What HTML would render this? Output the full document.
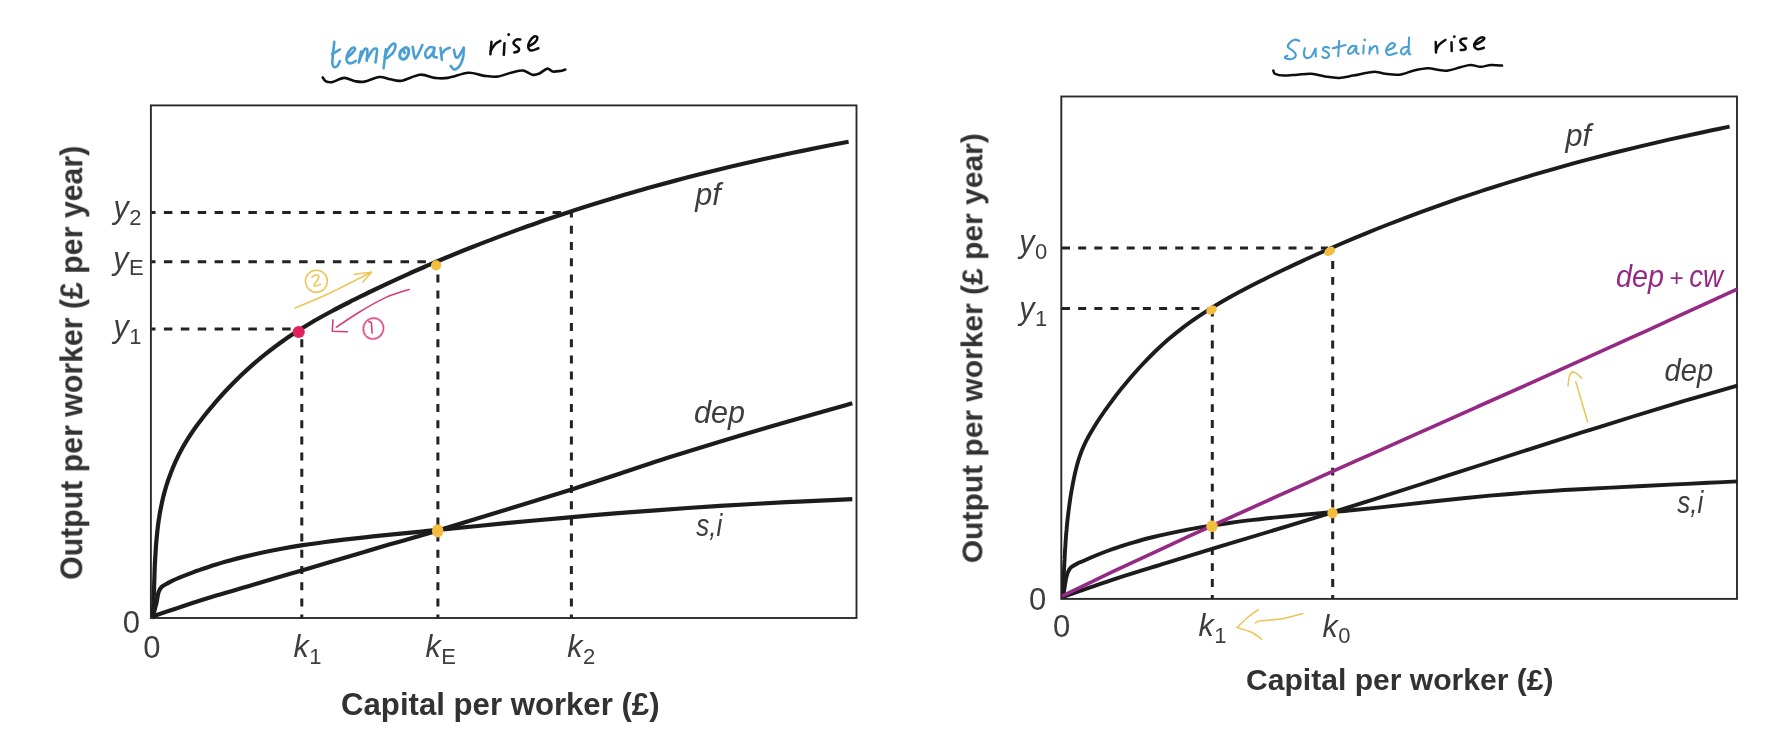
<!DOCTYPE html>
<html><head><meta charset="utf-8">
<style>
html,body{margin:0;padding:0;background:#fff;}
body{width:1787px;height:755px;overflow:hidden;font-family:"Liberation Sans",sans-serif;}
svg{display:block;}
.ax{font-family:"Liberation Sans",sans-serif;font-weight:bold;fill:#333;}
.lb{font-family:"Liberation Sans",sans-serif;font-style:italic;fill:#3d3d3d;}
.nm{font-family:"Liberation Sans",sans-serif;fill:#3d3d3d;}
.cv{fill:none;stroke:#1c1c1c;stroke-width:4.2;stroke-linecap:butt;stroke-linejoin:round;}
.cr{stroke-width:3.9;}
.ds{fill:none;stroke:#222;stroke-width:3;}
.lh{stroke-dasharray:8.5 8.4;stroke-dashoffset:4.4;}
.lv{stroke-dasharray:8 8.2;stroke-dashoffset:4.4;}
.rh{stroke-dasharray:8 8.18;}
.rv{stroke-dasharray:7.8 8.1;stroke-dashoffset:4;}
.fr{fill:none;stroke:#2a2a2a;stroke-width:1.9;}
.hw{fill:none;stroke-linecap:round;stroke-linejoin:round;}
</style></head>
<body>
<svg width="1787" height="755" viewBox="0 0 1787 755">
<rect width="1787" height="755" fill="#fff"/>
<defs><filter id="soft" x="0" y="0" width="1787" height="755" filterUnits="userSpaceOnUse"><feGaussianBlur stdDeviation="0.45"/></filter></defs>
<g filter="url(#soft)">
<defs><clipPath id="cl"><rect x="150" y="100" width="702.3" height="520"/></clipPath><clipPath id="clp"><rect x="150" y="100" width="698.6" height="520"/></clipPath><clipPath id="crr"><rect x="1060" y="90" width="677.5" height="510"/></clipPath><clipPath id="crp"><rect x="1060" y="90" width="669.6" height="510"/></clipPath></defs>
<g id="left">
<rect class="fr" x="150.9" y="105.4" width="705.6" height="512.6"/>
<path class="ds lh" d="M151.4 212.5H572.5"/><path class="ds lv" d="M571.4 618.2V212.5"/>
<path class="ds lh" d="M151.4 261.8H434"/><path class="ds lv" d="M437.9 618.2V266"/>
<path class="ds lh" d="M151.4 328.9H296"/><path class="ds lv" d="M301.8 618.2V334"/>
<path class="cv" d="M152.3 616.5C157.5 614.7 172.8 609.4 183.6 605.9C194.4 602.4 206.0 598.7 217.2 595.3C228.4 591.9 240.2 588.6 250.7 585.5C261.2 582.4 271.5 579.3 280.0 576.8C288.5 574.3 290.9 573.6 301.8 570.4C312.7 567.2 330.9 561.8 345.5 557.5C360.1 553.2 373.7 549.1 389.1 544.6C404.5 540.1 407.5 539.8 437.9 530.6C468.3 521.4 532.1 501.9 571.6 489.4C611.1 476.9 642.1 466.0 675.0 455.6C707.9 445.2 739.5 435.7 769.0 427.0C798.5 418.3 838.4 407.2 852.3 403.3"/>
<path class="cv" d="M152.8 617.0C153.0 616.1 153.7 613.3 154.2 611.5C154.7 609.7 155.2 607.6 155.6 606.0C156.0 604.4 156.4 603.5 156.7 601.9C157.0 600.3 157.3 598.2 157.6 596.5C157.9 594.8 158.1 593.4 158.7 591.8C159.3 590.2 160.1 588.5 161.4 587.1C162.8 585.8 164.9 584.8 166.8 583.7C168.7 582.6 170.0 581.8 172.6 580.6C175.2 579.4 178.8 577.9 182.5 576.4C186.3 574.9 190.5 573.3 194.9 571.6C199.4 570.0 204.2 568.3 209.2 566.7C214.2 565.0 219.6 563.4 225.2 561.8C230.7 560.2 236.6 558.6 242.6 557.1C248.7 555.6 255.0 554.1 261.5 552.7C267.9 551.3 274.7 550.0 281.6 548.8C288.5 547.5 295.6 546.3 302.8 545.2C310.1 544.1 317.6 543.0 325.2 542.0C332.8 541.0 340.6 540.0 348.6 539.1C356.5 538.2 364.6 537.3 372.8 536.4C381.1 535.5 389.5 534.7 398.0 533.8C406.5 533.0 415.1 532.2 423.9 531.3C432.7 530.4 441.5 529.6 450.5 528.7C459.6 527.8 468.7 526.9 477.9 526.0C487.1 525.1 496.5 524.2 505.9 523.2C515.4 522.3 524.9 521.4 534.6 520.5C544.3 519.6 554.1 518.7 564.0 517.8C573.8 516.9 583.8 516.0 593.9 515.1C604.0 514.3 614.2 513.5 624.6 512.6C634.9 511.8 645.3 511.0 655.8 510.3C666.3 509.5 676.9 508.8 687.6 508.0C698.3 507.3 709.1 506.6 720.0 505.9C730.9 505.3 741.8 504.6 752.9 504.0C764.0 503.4 775.1 502.8 786.4 502.2C797.7 501.6 809.4 501.1 820.4 500.6C831.4 500.1 847.0 499.4 852.3 499.2"/>
<path class="cv" d="M152.6 617.5C152.6 617.5 152.8 617.4 152.8 617.2C152.9 617.0 152.9 616.7 152.9 616.4C152.9 616.0 152.9 615.6 153.0 615.0C153.0 614.5 153.0 613.8 153.1 613.1C153.1 612.4 153.1 611.6 153.2 610.6C153.2 609.7 153.3 608.7 153.3 607.6C153.4 606.5 153.4 605.3 153.5 604.1C153.5 602.8 153.6 601.4 153.6 599.9C153.7 598.5 153.7 596.9 153.8 595.2C153.9 593.6 153.9 591.8 154.0 590.0C154.0 588.1 154.1 586.2 154.2 584.2C154.2 582.2 154.3 580.0 154.4 577.8C154.5 575.6 154.5 573.3 154.6 570.9C154.7 568.5 154.8 566.0 154.9 563.4C155.1 560.8 155.2 558.1 155.4 555.3C155.5 552.6 155.7 549.7 155.9 546.8C156.1 543.8 156.4 540.8 156.7 537.6C157.0 534.5 157.3 531.3 157.7 528.0C158.1 524.7 158.5 521.3 159.1 517.9C159.6 514.4 160.2 510.9 161.0 507.3C161.7 503.7 162.5 500.0 163.4 496.3C164.4 492.6 165.4 488.7 166.6 484.9C167.8 481.0 169.2 477.1 170.7 473.2C172.2 469.2 173.8 465.3 175.6 461.3C177.5 457.3 179.5 453.3 181.7 449.3C183.9 445.2 186.4 441.2 188.9 437.2C191.5 433.2 194.3 429.1 197.2 425.1C200.2 421.1 203.3 417.0 206.5 413.0C209.8 408.9 213.2 404.9 216.7 400.8C220.2 396.8 223.9 392.8 227.7 388.7C231.5 384.7 235.5 380.7 239.6 376.7C243.8 372.8 248.1 368.8 252.5 364.9C256.9 361.0 261.5 357.2 266.3 353.4C271.0 349.6 276.0 345.9 281.1 342.2C286.1 338.6 291.4 335.0 296.8 331.5C302.2 328.0 307.8 324.7 313.5 321.3C319.3 318.0 325.2 314.7 331.2 311.5C337.2 308.3 343.3 305.1 349.6 302.0C355.8 298.8 362.2 295.7 368.6 292.5C375.1 289.4 381.7 286.3 388.4 283.1C395.0 280.0 401.8 276.9 408.7 273.8C415.6 270.7 422.6 267.7 429.7 264.6C436.8 261.5 444.0 258.5 451.3 255.5C458.7 252.4 466.1 249.4 473.6 246.5C481.2 243.5 488.8 240.5 496.6 237.6C504.3 234.7 512.2 231.8 520.2 228.9C528.1 226.0 536.2 223.2 544.4 220.3C552.6 217.5 560.9 214.7 569.3 212.0C577.7 209.2 586.2 206.5 594.9 203.8C603.5 201.1 612.2 198.5 621.1 195.8C629.9 193.2 638.9 190.6 647.9 188.1C657.0 185.6 666.2 183.1 675.4 180.6C684.7 178.1 694.1 175.7 703.6 173.3C713.1 170.9 722.6 168.6 732.3 166.3C742.0 164.0 751.8 161.7 761.7 159.5C771.6 157.3 781.6 155.2 791.7 153.0C801.8 150.9 812.9 148.7 822.4 146.8C831.8 144.9 844.2 142.6 848.6 141.8"/>
<circle cx="298.7" cy="332" r="6.1" fill="#e0245e"/>
<circle cx="436.1" cy="265.3" r="5.1" fill="#f3bd3e"/>
<ellipse cx="437.7" cy="530.8" rx="5.8" ry="6.6" fill="#f3bd3e"/>
<text class="lb" x="695.3" y="204.6" font-size="30.5">pf</text>
<text class="lb" x="694" y="423" font-size="30.5">dep</text>
<text class="lb" x="696.3" y="536.2" font-size="30.5" textLength="26" lengthAdjust="spacingAndGlyphs">s,i</text>
<text class="lb" x="113.6" y="218.1" font-size="30.5">y<tspan class="nm" font-style="normal" font-size="22" dx="0.5" dy="6.5">2</tspan></text>
<text class="lb" x="113.2" y="268.6" font-size="30.5">y<tspan class="nm" font-style="normal" font-size="22" dx="0.5" dy="6.5">E</tspan></text>
<text class="lb" x="113.4" y="337.3" font-size="30.5">y<tspan class="nm" font-style="normal" font-size="22" dx="0.5" dy="6.5">1</tspan></text>
<text class="nm" x="122.8" y="632.6" font-size="31">0</text>
<text class="nm" x="143.2" y="657.6" font-size="31">0</text>
<text class="lb" x="293.6" y="657" font-size="30.5">k<tspan class="nm" font-style="normal" font-size="22" dx="0.5" dy="6.5">1</tspan></text>
<text class="lb" x="425.6" y="657" font-size="30.5">k<tspan class="nm" font-style="normal" font-size="22" dx="0.5" dy="6.5">E</tspan></text>
<text class="lb" x="567.2" y="657" font-size="30.5">k<tspan class="nm" font-style="normal" font-size="22" dx="0.5" dy="6.5">2</tspan></text>
<text class="ax" x="500.3" y="715.2" font-size="30.5" text-anchor="middle" textLength="318.5" lengthAdjust="spacingAndGlyphs">Capital per worker (£)</text>
<text class="ax" transform="translate(82.3 362.8) rotate(-90)" font-size="30.5" text-anchor="middle" textLength="434" lengthAdjust="spacingAndGlyphs">Output per worker (£ per year)</text>
</g>
<g id="right">
<rect class="fr" x="1061.3" y="96.5" width="675.7" height="502.4"/>
<path class="ds rh" d="M1062 247.9H1328"/><path class="ds rv" d="M1332.7 598.8V253"/>
<path class="ds rh" d="M1062 308.4H1208"/><path class="ds rv" d="M1212.3 598.8V313"/>
<path class="cv cr" d="M1062.3 597.0C1070.9 594.1 1096.5 585.0 1113.8 579.3C1131.0 573.7 1148.3 568.5 1165.7 563.1C1183.0 557.8 1200.4 552.5 1217.7 547.2C1235.1 542.0 1252.5 536.8 1269.8 531.5C1287.2 526.2 1304.5 520.9 1321.9 515.6C1339.2 510.2 1356.5 504.8 1373.8 499.3C1391.1 493.9 1408.4 488.3 1425.7 482.7C1442.9 477.2 1460.2 471.6 1477.4 466.0C1494.7 460.4 1512.0 454.8 1529.2 449.3C1546.5 443.7 1563.8 438.2 1581.1 432.7C1598.4 427.3 1615.7 421.8 1633.0 416.5C1650.4 411.2 1667.7 405.9 1685.1 400.7C1702.5 395.6 1728.7 388.1 1737.4 385.6"/>
<path class="cv cr" d="M1062.8 597.5C1063.0 596.2 1063.8 592.5 1064.2 590.0C1064.6 587.5 1065.0 584.8 1065.4 582.5C1065.8 580.2 1066.1 578.3 1066.6 576.5C1067.0 574.7 1067.3 573.4 1068.1 571.8C1068.9 570.2 1069.7 568.5 1071.4 567.1C1073.1 565.7 1076.0 564.2 1078.1 563.1C1080.2 562.0 1081.4 561.9 1083.9 560.8C1086.5 559.7 1089.9 558.0 1093.5 556.5C1097.0 555.0 1101.1 553.4 1105.3 551.8C1109.6 550.2 1114.2 548.5 1119.1 546.9C1123.9 545.2 1129.1 543.6 1134.5 542.1C1139.8 540.5 1145.5 539.0 1151.3 537.5C1157.1 536.0 1163.2 534.6 1169.5 533.3C1175.7 531.9 1182.2 530.6 1188.9 529.4C1195.5 528.2 1202.3 527.0 1209.3 525.9C1216.3 524.8 1223.5 523.7 1230.9 522.7C1238.2 521.7 1245.7 520.8 1253.3 519.9C1261.0 519.0 1268.8 518.2 1276.7 517.4C1284.6 516.5 1292.7 515.7 1300.9 515.0C1309.1 514.2 1317.4 513.4 1325.9 512.6C1334.3 511.8 1342.9 511.1 1351.6 510.2C1360.3 509.4 1369.0 508.5 1377.9 507.6C1386.8 506.6 1395.8 505.6 1404.9 504.6C1414.0 503.6 1423.2 502.6 1432.5 501.5C1441.8 500.5 1451.2 499.5 1460.7 498.5C1470.3 497.5 1479.9 496.5 1489.6 495.6C1499.3 494.7 1509.2 493.9 1519.1 493.2C1529.0 492.4 1539.1 491.7 1549.2 491.1C1559.3 490.4 1569.6 489.8 1579.9 489.3C1590.2 488.7 1600.7 488.1 1611.2 487.6C1621.7 487.0 1632.3 486.5 1642.9 486.0C1653.6 485.4 1664.4 484.9 1675.2 484.4C1686.1 483.9 1697.6 483.3 1708.0 482.8C1718.4 482.3 1732.5 481.6 1737.4 481.4"/>
<path class="cv cr" d="M1062.8 597.5C1062.8 597.5 1062.9 597.4 1062.9 597.2C1063.0 597.1 1063.0 596.8 1063.0 596.4C1063.0 596.1 1063.0 595.6 1063.0 595.1C1063.0 594.6 1063.1 594.0 1063.1 593.3C1063.1 592.5 1063.2 591.7 1063.2 590.9C1063.2 590.0 1063.3 589.0 1063.3 587.9C1063.4 586.9 1063.4 585.7 1063.4 584.5C1063.5 583.2 1063.5 581.9 1063.6 580.5C1063.7 579.1 1063.7 577.6 1063.8 576.0C1063.9 574.4 1063.9 572.7 1064.0 570.9C1064.1 569.2 1064.2 567.3 1064.3 565.3C1064.3 563.4 1064.4 561.4 1064.6 559.2C1064.7 557.1 1064.8 554.9 1064.9 552.6C1065.0 550.3 1065.2 547.9 1065.4 545.4C1065.5 543.0 1065.7 540.4 1065.9 537.7C1066.1 535.1 1066.3 532.3 1066.6 529.5C1066.8 526.7 1067.1 523.8 1067.4 520.8C1067.7 517.8 1068.1 514.7 1068.5 511.5C1068.9 508.3 1069.3 505.1 1069.8 501.7C1070.3 498.4 1070.8 495.0 1071.4 491.5C1072.0 488.0 1072.7 484.4 1073.4 480.8C1074.2 477.1 1074.9 473.4 1075.9 469.6C1076.8 465.8 1077.8 461.9 1079.1 458.1C1080.4 454.2 1081.8 450.3 1083.6 446.4C1085.3 442.5 1087.3 438.7 1089.5 434.8C1091.6 430.9 1094.0 427.1 1096.4 423.2C1098.9 419.3 1101.6 415.4 1104.3 411.5C1107.1 407.6 1109.9 403.6 1112.9 399.6C1115.9 395.7 1119.0 391.6 1122.3 387.6C1125.5 383.6 1128.9 379.6 1132.4 375.5C1135.9 371.5 1139.5 367.5 1143.3 363.5C1147.1 359.5 1151.0 355.5 1155.1 351.5C1159.2 347.6 1163.4 343.7 1167.8 339.8C1172.3 336.0 1176.8 332.3 1181.6 328.6C1186.3 324.9 1191.3 321.4 1196.4 317.9C1201.4 314.4 1206.7 311.0 1212.1 307.6C1217.5 304.3 1223.1 301.0 1228.8 297.8C1234.5 294.6 1240.4 291.4 1246.4 288.3C1252.4 285.1 1258.5 282.1 1264.7 279.0C1270.9 275.9 1277.2 272.8 1283.6 269.8C1290.0 266.7 1296.5 263.6 1303.1 260.6C1309.7 257.5 1316.5 254.5 1323.3 251.5C1330.1 248.5 1337.0 245.5 1344.0 242.5C1351.0 239.5 1358.2 236.5 1365.4 233.6C1372.6 230.6 1379.9 227.7 1387.4 224.8C1394.8 221.9 1402.3 219.0 1410.0 216.1C1417.6 213.2 1425.3 210.4 1433.2 207.6C1441.0 204.8 1449.0 202.0 1457.0 199.2C1465.1 196.5 1473.2 193.7 1481.5 191.0C1489.7 188.3 1498.1 185.7 1506.6 183.0C1515.0 180.4 1523.6 177.8 1532.3 175.2C1541.0 172.6 1549.7 170.1 1558.6 167.6C1567.5 165.1 1576.5 162.6 1585.6 160.2C1594.6 157.8 1603.8 155.4 1613.1 153.0C1622.4 150.7 1631.8 148.4 1641.3 146.1C1650.8 143.8 1660.4 141.6 1670.0 139.4C1679.7 137.2 1689.5 135.1 1699.4 133.0C1709.3 130.8 1724.6 127.8 1729.6 126.7"/>
<path d="M1062.0 596.2C1070.6 592.1 1096.2 579.5 1113.3 571.3C1130.5 563.2 1147.8 555.3 1165.1 547.3C1182.4 539.3 1199.6 531.4 1217.0 523.5C1234.3 515.6 1251.6 507.8 1268.9 500.0C1286.3 492.1 1303.6 484.3 1321.0 476.6C1338.3 468.8 1355.7 461.0 1373.1 453.3C1390.4 445.5 1407.8 437.8 1425.2 430.1C1442.6 422.3 1460.0 414.6 1477.3 406.8C1494.7 399.1 1512.1 391.4 1529.4 383.6C1546.8 375.8 1564.1 368.0 1581.5 360.2C1598.8 352.4 1616.2 344.5 1633.5 336.7C1650.8 328.8 1668.1 320.8 1685.3 312.9C1702.6 305.0 1728.6 293.1 1737.2 289.1" fill="none" stroke="#942b83" stroke-width="3.6" stroke-linecap="butt"/>
<circle cx="1212" cy="526.3" r="5.8" fill="#f3bd3e"/>
<circle cx="1332.5" cy="513" r="5.2" fill="#f3bd3e"/>
<ellipse cx="1211.5" cy="310" rx="5.6" ry="4.2" transform="rotate(-28 1211.5 310)" fill="#f3bd3e"/>
<ellipse cx="1329.6" cy="251.3" rx="5.8" ry="4.2" transform="rotate(-32 1329.6 251.3)" fill="#f3bd3e"/>
<text class="lb" x="1565.6" y="146.2" font-size="30.5">pf</text>
<text class="lb" x="1616" y="287" font-size="30.5" style="fill:#942b83" textLength="48" lengthAdjust="spacingAndGlyphs">dep</text>
<text class="nm" x="1669.4" y="286.3" font-size="24.5" style="fill:#942b83">+</text>
<text class="lb" x="1689.2" y="287" font-size="30.5" style="fill:#942b83" textLength="33.8" lengthAdjust="spacingAndGlyphs">cw</text>
<text class="lb" x="1664.6" y="380.9" font-size="30.5" textLength="48.5" lengthAdjust="spacingAndGlyphs">dep</text>
<text class="lb" x="1677.3" y="512.7" font-size="30.5" textLength="26" lengthAdjust="spacingAndGlyphs">s,i</text>
<text class="lb" x="1019.2" y="252" font-size="30.5">y<tspan class="nm" font-style="normal" font-size="22" dx="0.5" dy="6.5">0</tspan></text>
<text class="lb" x="1019.2" y="319.3" font-size="30.5">y<tspan class="nm" font-style="normal" font-size="22" dx="0.5" dy="6.5">1</tspan></text>
<text class="nm" x="1029" y="610" font-size="31">0</text>
<text class="nm" x="1053" y="636.7" font-size="31">0</text>
<text class="lb" x="1198.6" y="636.3" font-size="30.5">k<tspan class="nm" font-style="normal" font-size="22" dx="0.5" dy="6.5">1</tspan></text>
<text class="lb" x="1322.4" y="636.8" font-size="30.5">k<tspan class="nm" font-style="normal" font-size="22" dx="0.5" dy="6.5">0</tspan></text>
<text class="ax" x="1399.8" y="689.8" font-size="30" text-anchor="middle" textLength="307.5" lengthAdjust="spacingAndGlyphs">Capital per worker (£)</text>
<text class="ax" transform="translate(982.4 348.2) rotate(-90)" font-size="30" text-anchor="middle" textLength="430" lengthAdjust="spacingAndGlyphs">Output per worker (£ per year)</text>
</g>
<g id="hand">
<path class="hw" d="M334.3 41.9C334.1 43.8 333.4 49.7 333.1 53.2C332.8 56.7 332.2 60.8 332.3 63.1C332.4 65.4 333.1 66.3 333.9 66.8C334.7 67.3 336.3 67.0 337.3 66.1C338.3 65.1 339.5 61.9 339.9 61.1" stroke="#4a9fd3" stroke-width="2.6"/>
<path class="hw" d="M332.0 54.2C333.3 53.4 338.6 50.3 339.9 49.5" stroke="#4a9fd3" stroke-width="2.6"/>
<path class="hw" d="M347.5 57.2C348.4 56.4 351.5 53.8 352.8 52.5C354.1 51.2 355.0 50.0 355.1 49.2C355.2 48.4 354.3 47.4 353.5 47.5C352.7 47.6 351.2 48.6 350.2 49.9C349.1 51.2 347.8 53.6 347.2 55.2C346.6 56.9 346.2 58.5 346.5 59.8C346.8 61.1 347.8 62.6 348.8 63.1C349.9 63.6 351.6 63.2 352.8 62.8C354.0 62.4 355.3 61.1 355.8 60.8" stroke="#4a9fd3" stroke-width="2.6"/>
<path class="hw" d="M361.1 51.5C360.7 53.3 359.3 60.7 358.9 62.5" stroke="#4a9fd3" stroke-width="2.6"/>
<path class="hw" d="M359.2 61.0C360.0 59.1 362.9 51.9 364.1 49.9C365.3 47.9 365.8 48.8 366.4 48.9C366.9 49.0 367.3 48.5 367.4 50.5C367.4 52.5 366.8 59.1 366.7 60.8" stroke="#4a9fd3" stroke-width="2.6"/>
<path class="hw" d="M366.9 59.0C367.9 57.5 371.2 51.6 372.7 49.9C374.2 48.1 375.0 48.4 375.7 48.5C376.4 48.6 377.0 48.2 377.0 50.5C377.0 52.8 375.8 60.5 375.5 62.5" stroke="#4a9fd3" stroke-width="2.6"/>
<path class="hw" d="M385.9 49.2C385.5 52.4 384.0 64.9 383.6 68.1" stroke="#4a9fd3" stroke-width="2.6"/>
<path class="hw" d="M384.9 56.5C385.5 55.2 387.2 50.6 388.6 48.5C390.0 46.4 392.1 44.1 393.2 43.6C394.3 43.1 395.5 44.1 395.5 45.6C395.5 47.1 394.6 50.4 393.2 52.5C391.8 54.6 387.9 57.2 386.9 58.1" stroke="#4a9fd3" stroke-width="2.6"/>
<path class="hw" d="M402.5 49.5C403.1 49.2 404.9 47.2 406.0 47.5C407.1 47.8 408.7 49.3 408.8 51.0C408.9 52.7 407.6 56.1 406.5 57.5C405.4 58.9 403.6 59.5 402.5 59.3C401.4 59.0 400.1 57.3 399.8 56.0C399.5 54.7 400.1 52.5 400.6 51.5C401.1 50.5 402.3 49.8 403.0 50.0C403.7 50.2 404.3 52.3 404.6 52.8" stroke="#4a9fd3" stroke-width="3.0"/>
<path class="hw" d="M412.7 46.9C413.1 48.4 414.2 58.8 415.5 58.5C416.8 58.2 421.5 46.8 422.4 45.0" stroke="#4a9fd3" stroke-width="2.6"/>
<path class="hw" d="M434.5 47.8C433.6 47.7 430.9 46.4 429.4 47.3C427.8 48.2 425.5 51.6 425.2 53.4C424.9 55.2 426.3 58.0 427.5 58.0C428.7 58.0 431.4 55.0 432.6 53.4C433.8 51.8 434.4 47.8 434.5 48.3C434.6 48.8 433.1 54.6 433.5 56.1C433.9 57.6 436.2 57.3 436.8 57.5" stroke="#4a9fd3" stroke-width="2.6"/>
<path class="hw" d="M440.5 47.8C440.7 49.8 441.7 57.9 441.9 59.9" stroke="#4a9fd3" stroke-width="2.6"/>
<path class="hw" d="M441.6 54.3C442.2 53.5 443.7 50.8 445.1 49.7C446.5 48.6 449.0 48.1 449.8 47.8" stroke="#4a9fd3" stroke-width="2.6"/>
<path class="hw" d="M453.9 49.7C454.2 50.9 454.9 56.0 455.8 57.1C456.7 58.2 457.7 57.7 459.0 56.1C460.3 54.5 462.9 49.2 463.7 47.8" stroke="#4a9fd3" stroke-width="2.6"/>
<path class="hw" d="M463.7 47.8C463.6 49.3 463.8 54.2 463.2 57.1C462.6 60.0 461.4 63.3 459.9 65.4C458.4 67.5 455.9 69.5 454.4 69.6C452.9 69.7 451.3 66.5 450.7 65.9" stroke="#4a9fd3" stroke-width="2.6"/>
<path class="hw" d="M491.5 41.8C491.3 43.9 490.6 52.2 490.4 54.3" stroke="#111" stroke-width="2.5"/>
<path class="hw" d="M490.8 51.0C491.1 50.5 491.6 49.1 492.5 47.8C493.4 46.5 494.9 44.4 496.2 43.2C497.5 42.1 499.6 41.3 500.3 40.9" stroke="#111" stroke-width="2.5"/>
<path class="hw" d="M504.5 43.2C504.4 45.1 503.9 52.9 503.8 54.8" stroke="#111" stroke-width="2.5"/>
<circle cx="508.7" cy="34.6" r="1.5" fill="#111"/>
<path class="hw" d="M520.3 39.5C519.6 39.5 517.2 39.0 516.1 39.7C515.0 40.4 513.2 42.2 513.6 43.6C514.0 45.0 517.6 46.5 518.4 47.8C519.2 49.0 519.1 50.3 518.4 51.1C517.7 51.9 515.0 52.3 514.3 52.5" stroke="#111" stroke-width="2.5"/>
<path class="hw" d="M528.6 46.4C529.7 45.7 533.6 43.8 535.1 42.3C536.6 40.8 537.5 38.6 537.4 37.6C537.2 36.6 535.5 35.9 534.2 36.5C532.9 37.1 530.7 39.6 529.7 41.3C528.7 43.0 527.9 45.3 528.2 46.9C528.5 48.5 529.7 50.4 531.4 50.6C533.1 50.8 537.2 48.7 538.4 48.3" stroke="#111" stroke-width="2.5"/>
<path class="hw" d="M322.8 77.5C323.3 78.1 324.1 80.4 325.6 81.2C327.1 82.0 328.9 82.6 332.0 82.1C335.1 81.5 340.2 78.1 344.1 77.9C348.0 77.8 351.8 80.6 355.2 81.2C358.6 81.8 360.5 82.3 364.5 81.6C368.5 80.9 375.0 77.4 379.3 77.0C383.6 76.6 386.7 78.7 390.4 79.3C394.1 79.9 396.7 81.5 401.6 80.7C406.6 79.9 414.6 75.2 420.1 74.7C425.7 74.2 430.3 77.4 434.9 77.9C439.5 78.4 442.3 78.8 447.9 77.9C453.5 77.1 462.4 73.2 468.3 72.8C474.2 72.4 478.4 75.0 483.2 75.6C488.0 76.2 492.3 77.1 497.1 76.6C501.9 76.1 507.6 73.4 511.9 72.4C516.2 71.4 519.7 70.1 523.1 70.5C526.5 70.9 529.7 74.2 532.3 74.7C534.9 75.2 536.3 74.8 538.8 73.8C541.3 72.8 544.9 69.1 547.2 68.7C549.5 68.3 550.5 71.1 552.7 71.5C554.9 71.9 558.1 71.3 560.2 71.0C562.3 70.7 564.4 69.8 565.3 69.6" stroke="#111" stroke-width="2.6"/>
<path class="hw" d="M1299.3 40.9C1298.5 40.7 1296.4 39.3 1294.7 39.7C1293.0 40.1 1290.4 41.9 1289.3 43.2C1288.2 44.5 1287.4 46.1 1288.0 47.3C1288.6 48.5 1291.5 49.3 1292.8 50.6C1294.1 51.9 1295.9 53.8 1295.8 55.2C1295.7 56.6 1293.8 58.3 1292.3 58.9C1290.8 59.5 1288.0 59.0 1286.8 58.7C1285.6 58.4 1284.8 57.4 1284.9 56.9C1285.0 56.4 1287.0 55.9 1287.4 55.7" stroke="#4a9fd3" stroke-width="2.1"/>
<path class="hw" d="M1304.9 48.3C1304.7 49.3 1303.6 52.7 1303.9 54.3C1304.2 55.9 1305.5 57.7 1306.7 58.0C1308.0 58.3 1309.9 57.8 1311.4 56.2C1312.9 54.7 1314.8 50.0 1315.5 48.7" stroke="#4a9fd3" stroke-width="2.1"/>
<path class="hw" d="M1315.5 48.7C1315.5 50.0 1315.8 55.3 1315.8 56.6" stroke="#4a9fd3" stroke-width="2.1"/>
<path class="hw" d="M1329.0 47.8C1328.4 47.6 1326.3 46.6 1325.3 46.9C1324.3 47.2 1322.5 48.7 1322.9 49.7C1323.4 50.7 1327.1 51.8 1328.0 52.9C1328.9 54.0 1329.1 55.8 1328.5 56.6C1327.9 57.5 1325.3 58.0 1324.3 58.0C1323.3 58.0 1322.6 56.8 1322.3 56.6" stroke="#4a9fd3" stroke-width="2.1"/>
<path class="hw" d="M1339.2 40.9C1339.0 43.5 1338.4 53.7 1338.2 56.2" stroke="#4a9fd3" stroke-width="2.1"/>
<path class="hw" d="M1332.7 48.3C1334.8 47.8 1343.4 45.5 1345.6 45.0" stroke="#4a9fd3" stroke-width="2.1"/>
<path class="hw" d="M1356.3 46.4C1355.6 46.3 1353.4 45.3 1352.1 46.0C1350.8 46.7 1348.7 49.3 1348.2 50.6C1347.7 51.9 1348.1 53.6 1348.9 53.8C1349.7 54.0 1351.9 53.1 1353.1 52.0C1354.3 50.9 1355.8 46.8 1356.3 46.9C1356.8 47.0 1355.9 51.2 1356.3 52.4C1356.7 53.5 1358.2 53.6 1358.6 53.8" stroke="#4a9fd3" stroke-width="2.1"/>
<path class="hw" d="M1363.7 45.5C1363.6 46.8 1363.4 52.1 1363.3 53.4" stroke="#4a9fd3" stroke-width="2.1"/>
<circle cx="1364.7" cy="39.9" r="1.4" fill="#4a9fd3"/>
<path class="hw" d="M1370.2 46.9C1370.0 48.0 1369.5 52.6 1369.3 53.8" stroke="#4a9fd3" stroke-width="2.1"/>
<path class="hw" d="M1369.9 51.1C1370.5 50.4 1372.4 47.6 1373.5 46.9C1374.6 46.1 1376.0 45.5 1376.7 46.6C1377.4 47.7 1377.4 52.3 1377.6 53.4" stroke="#4a9fd3" stroke-width="2.1"/>
<path class="hw" d="M1386.4 50.6C1387.5 50.1 1391.5 48.9 1392.9 47.8C1394.3 46.7 1395.1 44.9 1394.8 44.1C1394.5 43.3 1392.5 42.7 1391.3 43.2C1390.1 43.7 1388.3 45.7 1387.4 47.1C1386.5 48.5 1385.7 50.2 1386.0 51.5C1386.3 52.8 1387.4 54.8 1389.2 55.0C1391.0 55.2 1395.4 53.2 1396.6 52.9" stroke="#4a9fd3" stroke-width="2.1"/>
<path class="hw" d="M1407.8 46.9C1407.0 47.0 1404.3 46.9 1403.1 47.8C1401.9 48.6 1400.6 50.9 1400.8 52.0C1401.0 53.1 1402.8 54.9 1404.0 54.5C1405.2 54.1 1407.5 50.5 1408.2 49.7" stroke="#4a9fd3" stroke-width="2.1"/>
<path class="hw" d="M1409.1 37.6C1409.0 40.1 1408.5 49.6 1408.7 52.4C1408.9 55.2 1410.1 54.0 1410.4 54.3" stroke="#4a9fd3" stroke-width="2.1"/>
<path class="hw" d="M1435.7 42.1C1435.8 43.8 1436.0 50.8 1436.0 52.5" stroke="#111" stroke-width="2.5"/>
<path class="hw" d="M1436.0 50.0C1436.5 49.2 1437.3 46.7 1438.9 45.0C1440.5 43.3 1444.3 40.8 1445.4 39.9" stroke="#111" stroke-width="2.5"/>
<path class="hw" d="M1451.5 42.3C1451.5 43.8 1451.7 49.6 1451.7 51.1" stroke="#111" stroke-width="2.5"/>
<circle cx="1454.3" cy="36.7" r="1.4" fill="#111"/>
<path class="hw" d="M1466.3 38.5C1465.6 38.6 1462.9 38.4 1461.9 39.0C1460.9 39.6 1460.0 41.1 1460.5 42.3C1461.0 43.5 1464.1 45.0 1464.9 46.2C1465.7 47.4 1465.8 48.9 1465.1 49.5C1464.4 50.1 1461.4 49.8 1460.7 49.9" stroke="#111" stroke-width="2.5"/>
<path class="hw" d="M1474.7 45.0C1475.8 44.4 1480.0 42.4 1481.6 41.3C1483.2 40.1 1484.6 38.7 1484.4 38.1C1484.2 37.5 1482.1 37.1 1480.7 37.6C1479.3 38.1 1477.1 39.9 1476.0 41.3C1474.9 42.7 1473.9 44.7 1474.2 46.0C1474.5 47.3 1476.3 48.9 1477.9 49.2C1479.5 49.5 1482.9 48.0 1483.9 47.8" stroke="#111" stroke-width="2.5"/>
<path class="hw" d="M1273.3 70.5C1273.6 71.0 1273.5 73.0 1275.2 73.8C1276.9 74.6 1279.8 75.4 1283.5 75.6C1287.2 75.8 1292.8 75.0 1297.4 74.7C1302.1 74.4 1306.8 73.5 1311.4 73.8C1316.1 74.1 1320.7 75.8 1325.3 76.5C1329.9 77.2 1334.6 78.1 1339.2 77.9C1343.8 77.8 1348.5 76.4 1353.1 75.6C1357.7 74.8 1363.2 73.4 1367.0 72.8C1370.8 72.2 1373.1 71.7 1376.2 71.9C1379.3 72.1 1381.6 73.3 1385.5 73.8C1389.4 74.3 1394.7 75.2 1399.4 74.7C1404.1 74.2 1409.2 71.6 1413.9 70.5C1418.6 69.4 1423.6 68.3 1427.8 68.2C1432.0 68.1 1435.6 69.7 1439.0 70.1C1442.4 70.5 1444.7 71.0 1448.2 70.5C1451.8 70.0 1456.6 68.2 1460.3 67.3C1464.0 66.4 1467.1 65.1 1470.5 65.0C1473.9 64.9 1477.3 66.8 1480.7 66.8C1484.1 66.8 1487.4 65.2 1490.9 65.0C1494.5 64.8 1500.2 65.5 1502.0 65.6" stroke="#111" stroke-width="2.5"/>
<path class="hw" d="M295.2 308.0C301.0 305.5 317.3 299.0 330.0 293.0C342.7 287.0 364.5 275.7 371.4 272.2" stroke="#ecc558" stroke-width="1.55"/>
<path class="hw" d="M354.2 274.2L371.4 272.2L362.8 282.2" stroke="#ecc558" stroke-width="1.55"/>
<ellipse cx="316.4" cy="281.3" rx="11" ry="11" fill="none" stroke="#ecc558" stroke-width="1.55"/>
<path class="hw" d="M312.0 277.5C312.7 276.9 313.4 275.1 315.0 275.0C316.6 274.9 319.2 274.6 319.0 277.0C318.8 279.4 313.6 283.8 314.0 285.5C314.4 287.2 319.0 284.7 320.5 284.5" stroke="#ecc558" stroke-width="1.55"/>
<path class="hw" d="M409.1 289.4C405.2 290.7 394.3 293.6 386.0 297.4C377.7 301.2 367.8 307.0 359.5 312.0C351.2 317.0 340.2 324.7 336.3 327.2" stroke="#d63c7c" stroke-width="1.55"/>
<path class="hw" d="M333.0 319.9L332.3 331.2L347.5 331.8" stroke="#d63c7c" stroke-width="1.55"/>
<ellipse cx="373.4" cy="328.5" rx="10" ry="10.6" fill="none" stroke="#d63c7c" stroke-width="1.55" transform="rotate(25 373.4 328.5)"/>
<path class="hw" d="M368.5 321.5L371.4 322.5L372.1 333.1" stroke="#d63c7c" stroke-width="1.55"/>
<path class="hw" d="M1587.7 422.1C1585.7 415.4 1577.8 388.4 1575.8 381.6" stroke="#ecc558" stroke-width="1.55"/>
<path class="hw" d="M1568.0 385.8C1568.3 384.0 1568.8 377.3 1569.8 375.0C1570.8 372.7 1572.0 371.5 1574.0 372.0C1576.0 372.5 1580.4 377.0 1581.7 378.0" stroke="#ecc558" stroke-width="1.55"/>
<path class="hw" d="M1303.1 613.5C1299.4 614.4 1287.8 617.9 1280.7 619.1C1273.6 620.3 1264.8 620.1 1260.6 620.8C1256.4 621.4 1256.3 622.6 1255.5 623.0" stroke="#ecc558" stroke-width="1.55"/>
<path class="hw" d="M1258.3 609.6C1256.8 610.7 1249.8 615.6 1247.0 618.0C1244.2 620.4 1238.4 626.2 1237.1 627.5" stroke="#ecc558" stroke-width="1.55"/>
<path class="hw" d="M1237.1 627.5C1239.5 628.3 1247.5 630.2 1251.6 632.2C1255.7 634.2 1260.0 638.0 1261.7 639.2" stroke="#ecc558" stroke-width="1.55"/>
</g>
</g>
</svg>
</body></html>
